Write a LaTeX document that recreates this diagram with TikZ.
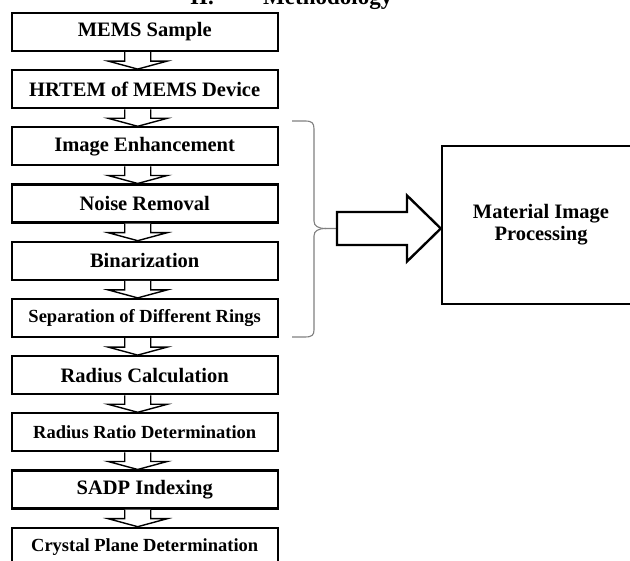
\documentclass[tikz,border=0pt]{standalone}
\usepackage{fontspec}
\setmainfont{Liberation Serif}
\usetikzlibrary{calc}
\tikzset{
  stepbox/.style={draw=black, line width=2.2pt, minimum width=266pt, minimum height=38pt,
    inner sep=0pt, font=\fontsize{20.5}{22}\selectfont\bfseries},
  longtext/.style={font=\fontsize{18.5}{22}\selectfont\bfseries},
  smallarrow/.style={draw=black, line width=1.4pt, fill=white, line join=miter},
  bigarrow/.style={draw=black, line width=2.4pt, fill=white, line join=miter},
  bracestyle/.style={draw=black!50, line width=1.1pt},
  bigbox/.style={draw=black, line width=2.4pt, minimum width=198pt, minimum height=158pt,
    inner sep=0pt, align=center, font=\fontsize{20.5}{22}\selectfont\bfseries},
  titletext/.style={anchor=base west, inner sep=0pt, font=\fontsize{23}{25}\selectfont\bfseries}
}
\begin{document}
\begin{tikzpicture}[x=1pt,y=-1pt]
\useasboundingbox (0,0) rectangle (630,561);
\clip (0,0) rectangle (630,561);
\fill[white] (0,0) rectangle (630,561);

\node[titletext] (t1) at (190,5) {II.};
\node[titletext] (t2) at (263,5) {Methodology};

\node[stepbox] (b1) at (144.7,32.0) {MEMS Sample};
\node[stepbox] (b2) at (144.7,89.2) {HRTEM of MEMS Device};
\node[stepbox] (b3) at (144.7,146.4) {Image Enhancement};
\node[stepbox] (b4) at (144.7,203.6) {Noise Removal};
\node[stepbox] (b5) at (144.7,260.8) {Binarization};
\node[stepbox,longtext] (b6) at (144.7,318.0) {Separation of Different Rings};
\node[stepbox] (b7) at (144.7,375.2) {Radius Calculation};
\node[stepbox,longtext] (b8) at (144.7,432.4) {Radius Ratio Determination};
\node[stepbox] (b9) at (144.7,489.6) {SADP Indexing};
\node[stepbox,longtext] (b10) at (144.7,546.8) {Crystal Plane Determination};

\foreach \i/\j in {1/2,2/3,3/4,4/5,5/6,6/7,7/8,8/9,9/10}{
  \draw[smallarrow] ($(b\i.south)+(-20,0)$) -- ($(b\i.south)+(-20,9)$)
    -- ($(b\i.south)+(-36.5,9)$) -- ($(b\j.north)+(-7,0)$)
    -- ($(b\i.south)+(22.5,9)$) -- ($(b\i.south)+(6,9)$) -- ($(b\i.south)+(6,0)$);
}

\node[bigbox] (mip) at (541,225) {Material Image\\Processing};

\coordinate (bt) at (337,228.5);
\coordinate (tip) at (mip.west |- bt);

\draw[bracestyle] (292,121) -- (305,121) .. controls (312,121) and (314,123) .. (314,129)
  -- (314,221) .. controls (314,226) and (318,228.5) .. (326,228.5) -- (bt);
\draw[bracestyle] (326,228.5) .. controls (318,228.5) and (314,231) .. (314,236)
  -- (314,330) .. controls (314,335) and (312,337) .. (305,337) -- (292,337);

\draw[bigarrow] ($(bt)+(0,-16.5)$) -- ($(bt)+(70,-16.5)$) -- ($(bt)+(70,-33)$) -- (tip)
  -- ($(bt)+(70,33)$) -- ($(bt)+(70,16.5)$) -- ($(bt)+(0,16.5)$) -- cycle;
\end{tikzpicture}
\end{document}
